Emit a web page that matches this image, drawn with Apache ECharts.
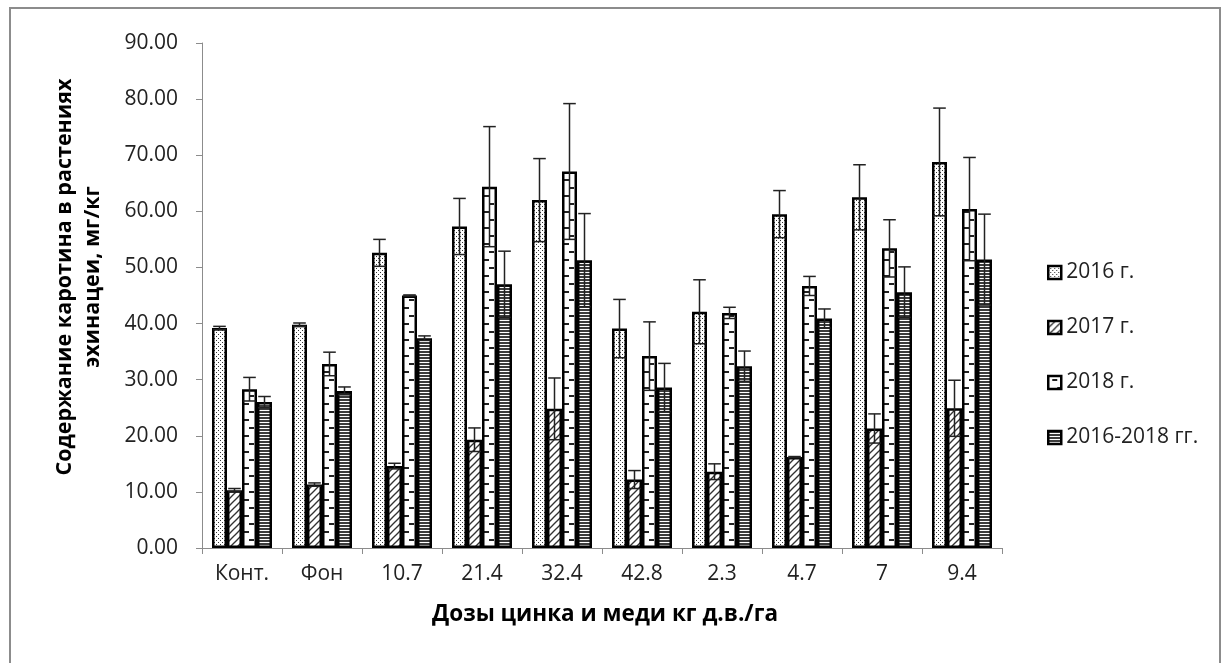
<!DOCTYPE html>
<html>
<head>
<meta charset="utf-8">
<script src="https://cdn.jsdelivr.net/npm/echarts@6/dist/echarts.min.js"></script>
<style>
  html, body { margin: 0; padding: 0; background: #fff; }
  #chart { width: 1229px; height: 663px; }
</style>
</head>
<body>
<div id="chart"></div>
<script>
// Дозы цинка и меди (кг д.в./га)
const categories = ['Конт.', 'Фон', '10.7', '21.4', '32.4', '42.8', '2.3', '4.7', '7', '9.4'];
const seriesNames = ['2016 г.', '2017 г.', '2018 г.', '2016-2018 гг.'];

// Содержание каротина, мг/кг, и погрешность
const y2016 = [39.2, 39.8, 52.6, 57.3, 62.0, 39.1, 42.1, 59.5, 62.5, 68.8];
const e2016 = [0.3, 0.3, 2.4, 5.0, 7.4, 5.2, 5.7, 4.2, 5.8, 9.6];
const y2017 = [10.3, 11.3, 14.6, 19.3, 24.8, 12.2, 13.6, 16.2, 21.3, 24.9];
const e2017 = [0.3, 0.3, 0.5, 2.1, 5.5, 1.6, 1.4, 0.1, 2.6, 5.0];
const y2018 = [28.3, 32.8, 45.0, 64.4, 67.1, 34.2, 41.9, 46.7, 53.4, 60.4];
const e2018 = [2.1, 2.1, 0.1, 10.7, 12.1, 6.1, 1.0, 1.7, 5.1, 9.2];
const yAvg  = [26.0, 28.0, 37.4, 47.0, 51.3, 28.6, 32.4, 40.9, 45.6, 51.4];
const eAvg  = [1.0, 0.7, 0.4, 5.9, 8.3, 4.3, 2.7, 1.7, 4.5, 8.1];

const yTicks = { min: 0, max: 90, interval: 10 };

const values = [y2016, y2017, y2018, yAvg];
const errors = [e2016, e2017, e2018, eAvg];

// Monochrome fill patterns
function makePattern(w, h, draw) {
  const c = document.createElement('canvas');
  c.width = w; c.height = h;
  const g = c.getContext('2d');
  g.fillStyle = '#fff';
  g.fillRect(0, 0, w, h);
  draw(g);
  return { image: c, repeat: 'repeat' };
}
const dots = makePattern(4, 4, g => {
  g.fillStyle = '#333';
  g.fillRect(0, 0, 1, 1);
  g.fillRect(2, 2, 1, 1);
});
const diagonal = makePattern(7, 7, g => {
  g.strokeStyle = '#333';
  g.lineWidth = 1.3;
  for (const k of [-7, 0, 7]) {
    g.beginPath();
    g.moveTo(k - 1, 8);
    g.lineTo(k + 8, -1);
    g.stroke();
  }
});
const dashes = makePattern(16, 16, g => {
  g.fillStyle = '#222';
  g.fillRect(4, 3, 5, 2);
  g.fillRect(9, 11, 5, 2);
});
const stripes = makePattern(3, 3, g => {
  g.fillStyle = '#3c3c3c';
  g.fillRect(0, 0, 3, 2);
});
const fills = [dots, diagonal, dashes, stripes];

const catGap = 0.25;

function errorRenderer(idx) {
  return function (params, api) {
    const cat = api.value(0), val = api.value(1), err = api.value(2);
    const band = api.size([1, 0])[0];
    const barW = band * (1 - catGap) / 4;
    const x = api.coord([cat, 0])[0] - band * (1 - catGap) / 2 + barW * (idx + 0.5);
    const top = api.coord([cat, val + err])[1];
    const bot = api.coord([cat, val - err])[1];
    const half = barW * 0.42;
    const style = { stroke: '#222', lineWidth: 1.5 };
    return {
      type: 'group',
      children: [
        { type: 'line', shape: { x1: x, y1: top, x2: x, y2: bot }, style },
        { type: 'line', shape: { x1: x - half, y1: top, x2: x + half, y2: top }, style },
        { type: 'line', shape: { x1: x - half, y1: bot, x2: x + half, y2: bot }, style }
      ]
    };
  };
}

const FONT = '"Open Sans", "DejaVu Sans", sans-serif';

const series = [];
seriesNames.forEach((name, i) => {
  series.push({
    name,
    type: 'bar',
    data: values[i],
    barGap: '0%',
    barCategoryGap: (catGap * 100) + '%',
    itemStyle: { color: fills[i], borderColor: '#000', borderWidth: 2.5 },
    emphasis: { disabled: true },
    z: 2
  });
});
seriesNames.forEach((name, i) => {
  series.push({
    name: 'err' + i,
    type: 'custom',
    renderItem: errorRenderer(i),
    data: values[i].map((v, k) => [k, v, errors[i][k]]),
    encode: { x: 0, y: 1 },
    z: 5,
    silent: true
  });
});

const chart = echarts.init(document.getElementById('chart'), null, { renderer: 'canvas' });
chart.setOption({
  animation: false,
  backgroundColor: '#fff',
  grid: { left: 202, right: 227, top: 43, bottom: 115, containLabel: false },
  legend: {
    data: seriesNames,
    orient: 'vertical',
    left: 1042,
    top: 257,
    itemWidth: 13,
    itemHeight: 13,
    itemGap: 34,
    icon: 'rect',
    itemStyle: { borderColor: '#000', borderWidth: 2.5 },
    textStyle: { fontFamily: FONT, fontSize: 21, color: '#222', lineHeight: 21, padding: [0, 0, 0, 0] }
  },
  xAxis: {
    type: 'category',
    data: categories,
    axisLine: { lineStyle: { color: '#8c8c8c', width: 1 } },
    axisTick: { show: true, length: 6, lineStyle: { color: '#8c8c8c' } },
    axisLabel: { fontFamily: FONT, fontSize: 21, color: '#222', margin: 16 }
  },
  yAxis: {
    type: 'value',
    min: yTicks.min,
    max: yTicks.max,
    interval: yTicks.interval,
    axisLine: { show: true, lineStyle: { color: '#8c8c8c', width: 1 } },
    axisTick: { show: true, length: 6, lineStyle: { color: '#8c8c8c' } },
    splitLine: { show: false },
    axisLabel: { fontFamily: FONT, fontSize: 21, color: '#222', margin: 24, formatter: v => v.toFixed(2) }
  },
  graphic: [
    {
      type: 'rect',
      shape: { x: 10, y: 8, width: 1210, height: 670 },
      style: { fill: null, stroke: '#8c8c8c', lineWidth: 2 },
      silent: true,
      z: -1
    },
    {
      type: 'text',
      x: 79, y: 277,
      rotation: Math.PI / 2,
      style: {
        text: 'Содержание каротина в растениях\nэхинацеи, мг/кг',
        fontFamily: FONT, fontSize: 21.5, fontWeight: 'bold', fill: '#000',
        align: 'center', verticalAlign: 'middle', lineHeight: 28
      }
    },
    {
      type: 'text',
      x: 605, y: 615,
      style: {
        text: 'Дозы цинка и меди кг д.в./га',
        fontFamily: FONT, fontSize: 22.5, fontWeight: 'bold', fill: '#000',
        align: 'center', verticalAlign: 'middle'
      }
    }
  ],
  series
});
</script>
</body>
</html>
